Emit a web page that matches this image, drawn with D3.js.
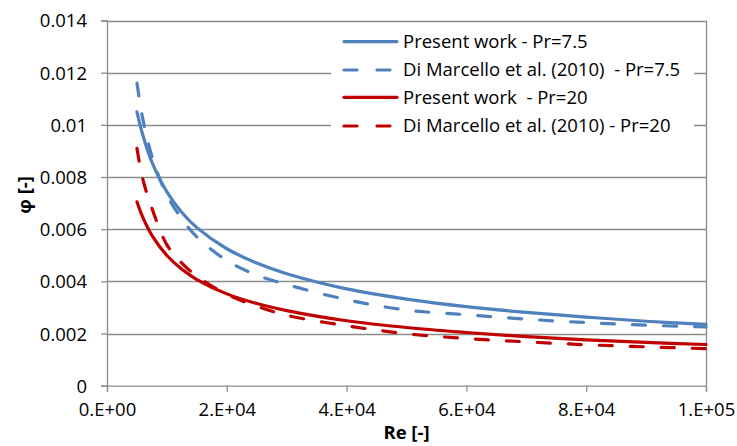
<!DOCTYPE html>
<html>
<head>
<meta charset="utf-8">
<script src="https://cdn.jsdelivr.net/npm/d3@7"></script>
<style>
  html, body { margin: 0; padding: 0; background: #fff; }
  svg { display: block; }
  text { font-family: "Open Sans", Lato, sans-serif; fill: #000; white-space: pre; }
</style>
</head>
<body>
<svg id="chart" width="737" height="446"></svg>
<script>
// ---- data ----
const reA = [5000, 6000, 7500, 10000, 12500, 15000, 20000, 25000, 30000, 40000, 50000, 60000, 70000, 80000, 90000, 100000];
const presentPr75 = [0.0105, 0.00959, 0.00857, 0.00743, 0.00664, 0.00606, 0.00525, 0.0047, 0.00429, 0.00371, 0.00332, 0.00303, 0.00281, 0.00263, 0.00247, 0.00235];
const diMarcelloPr75 = [0.0116, 0.0102, 0.0088, 0.0073, 0.0064, 0.0057, 0.0048, 0.00424, 0.00388, 0.0033, 0.0029, 0.00272, 0.00255, 0.00242, 0.00232, 0.00225];
const presentPr20 = [0.00705, 0.00644, 0.00576, 0.00499, 0.00446, 0.00407, 0.00352, 0.00315, 0.00288, 0.00249, 0.00223, 0.00204, 0.00188, 0.00176, 0.00166, 0.00158];
const diMarcelloPr20 = [0.0091, 0.0079, 0.0068, 0.0054, 0.0047, 0.0042, 0.0035, 0.00305, 0.0027, 0.0023, 0.00199, 0.00181, 0.00168, 0.00157, 0.00149, 0.00142];
const xTicks = [0, 20000, 40000, 60000, 80000, 100000];
const xTickLabels = ["0.E+00", "2.E+04", "4.E+04", "6.E+04", "8.E+04", "1.E+05"];
const yTicks = [0, 0.002, 0.004, 0.006, 0.008, 0.01, 0.012, 0.014];
const yTickLabels = ["0", "0.002", "0.004", "0.006", "0.008", "0.01", "0.012", "0.014"];
const seriesNames = ["Present work - Pr=7.5", "Di Marcello et al. (2010)  - Pr=7.5", "Present work  - Pr=20", "Di Marcello et al. (2010) - Pr=20"];
const seriesColors = ["#4F81BD", "#4F81BD", "#C00000", "#C00000"];
const seriesDashed = [false, true, false, true];
const seriesValues = [presentPr75, diMarcelloPr75, presentPr20, diMarcelloPr20];

// ---- layout ----
const svg = d3.select("#chart");
const pLeft = 107, pRight = 706, pTop = 20.5, pBottom = 385.7;
const x = d3.scaleLinear().domain([0, 100000]).range([pLeft, pRight]);
const y = d3.scaleLinear().domain([0, 0.014]).range([pBottom, pTop]);
const gridColor = "#8C8C8C";
const fs = 18.5;

// gridlines
svg.append("g").selectAll("line").data(yTicks.slice(1)).join("line")
  .attr("x1", pLeft).attr("x2", pRight)
  .attr("y1", d => Math.round(y(d)) + 0.5).attr("y2", d => Math.round(y(d)) + 0.5)
  .attr("stroke", gridColor).attr("stroke-width", 1.3);
// right border
svg.append("line").attr("x1", pRight + 0.5).attr("x2", pRight + 0.5)
  .attr("y1", pTop).attr("y2", pBottom).attr("stroke", gridColor).attr("stroke-width", 1.3);

// y axis
const yAxis = d3.axisLeft(y).tickValues(yTicks).tickSize(6).tickPadding(14)
  .tickFormat((d, i) => yTickLabels[i]);
const gy = svg.append("g").attr("transform", `translate(${pLeft},0)`).call(yAxis);
gy.select(".domain").attr("stroke", gridColor).attr("stroke-width", 1.3);
gy.selectAll(".tick line").attr("stroke", gridColor).attr("stroke-width", 1.3);
gy.selectAll("text").style("font-size", fs + "px").attr("font-family", null).attr("dy", "0.35em");

// x axis
const xAxis = d3.axisBottom(x).tickValues(xTicks).tickSize(6).tickPadding(11)
  .tickFormat((d, i) => xTickLabels[i]);
const gx = svg.append("g").attr("transform", `translate(0,${pBottom})`).call(xAxis);
gx.select(".domain").attr("stroke", gridColor).attr("stroke-width", 1.3);
gx.selectAll(".tick line").attr("stroke", gridColor).attr("stroke-width", 1.3);
gx.selectAll("text").style("font-size", fs + "px").attr("font-family", null);

// axis titles
svg.append("text").attr("x", (pLeft + pRight) / 2).attr("y", 439)
  .attr("text-anchor", "middle").style("font-size", fs + "px").style("font-weight", "bold")
  .text("Re [-]");
svg.append("text").attr("transform", "translate(31,195) rotate(-90)")
  .attr("text-anchor", "middle").style("font-size", fs + "px").style("font-weight", "bold")
  .text("φ [-]");

// series
const line = d3.line().x(d => x(d[0])).y(d => y(d[1])).curve(d3.curveCatmullRom.alpha(0.5));
seriesValues.forEach((vals, i) => {
  const pts = reA.map((r, j) => [r, vals[j]]);
  svg.append("path").datum(pts)
    .attr("d", line)
    .attr("fill", "none")
    .attr("stroke", seriesColors[i])
    .attr("stroke-width", 3.2)
    .attr("stroke-linecap", "round")
    .attr("stroke-dasharray", seriesDashed[i] ? "13,18" : null);
});

// legend
const lg = svg.append("g");
lg.append("rect").attr("x", 331).attr("y", 27).attr("width", 363).attr("height", 114).attr("fill", "#fff");
const rowY = [41.7, 70, 97.3, 126];
seriesNames.forEach((name, i) => {
  lg.append("line").attr("x1", 344).attr("x2", 397)
    .attr("y1", rowY[i]).attr("y2", rowY[i])
    .attr("stroke", seriesColors[i]).attr("stroke-width", 3.2)
    .attr("stroke-linecap", "round")
    .attr("stroke-dasharray", seriesDashed[i] ? "13,20" : null);
  lg.append("text").attr("x", 403).attr("y", rowY[i]).attr("dy", "0.35em")
    .style("font-size", fs + "px").text(name);
});
</script>
</body>
</html>
